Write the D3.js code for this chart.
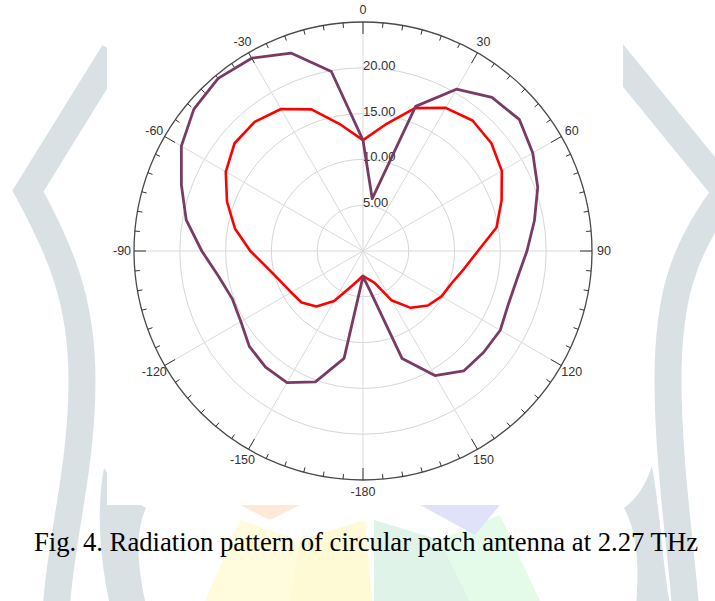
<!DOCTYPE html>
<html>
<head>
<meta charset="utf-8">
<script src="https://cdn.jsdelivr.net/npm/d3@7"></script>
<style>
  html, body { margin: 0; padding: 0; background: #fff; }
  svg { display: block; }
</style>
</head>
<body>
<script>
// angles in degrees, 0 at top, clockwise
const angles = [-180, -170, -160, -150, -140, -130, -120, -110, -100, -90, -80, -70, -60, -50, -40, -30, -20, -10,
                0, 10, 20, 30, 40, 50, 60, 70, 80, 90, 100, 110, 120, 130, 140, 150, 160, 170];

const redValues = [2.7, 3.3, 4.3, 6.3, 7.9, 8.75, 9.05, 9.6, 10.6, 12.3, 14.2, 15.8, 17.3, 18.3, 18.4, 17.9, 16.45, 14.0,
                   12.1, 14.0, 16.6, 18.05, 18.6, 18.3, 17.5, 16.1, 14.8, 12.55, 11.2, 10.3, 9.9, 9.25, 8.1, 6.2, 3.7, 3.1];

const purpleValues = [2.8, 11.9, 15.2, 16.6, 16.55, 16.2, 15.4, 15.2, 16.0, 17.6, 19.6, 21.1, 22.9, 24.1, 24.6, 24.3, 23.0, 19.9,
                      12.1, 5.8, 16.8, 20.4, 21.9, 22.3, 21.4, 20.3, 19.0, 17.9, 17.1, 16.9, 17.3, 17.2, 17.1, 15.7, 12.5, 4.4];

const ringValues = [5, 10, 15, 20];
const angleLabels = [0, 30, 60, 90, 120, 150, -180, -150, -120, -90, -60, -30];
const caption = "Fig. 4. Radiation pattern of circular patch antenna at 2.27 THz";

const width = 715, height = 601;
const cx = 363, cy = 251, R = 229;
const sans = "'Liberation Sans', Arial, sans-serif";

const svg = d3.select("body").append("svg")
    .attr("width", width)
    .attr("height", height);

// faint watermark in the background
const wm = svg.append("g").attr("fill", "none").attr("stroke-linejoin", "miter");
const grey = "#d9e1e5";
wm.append("path").attr("d", "M114,52 L28,191 C60,250 82,300 82,380 C82,470 60,540 56,612")
    .attr("stroke", grey).attr("stroke-width", 27);
wm.append("path").attr("d", "M612,52 L726,192 C682,250 668,300 668,380 C668,460 680,540 686,612")
    .attr("stroke", grey).attr("stroke-width", 27);
wm.append("path").attr("d", "M104,468 C96,510 100,560 110,605 L146,605 C136,560 136,530 146,508 C128,498 114,484 104,468 Z")
    .attr("fill", grey);
wm.append("path").attr("d", "M652,466 C660,510 662,560 670,605 L636,605 C640,560 636,530 624,508 C638,498 646,484 652,466 Z")
    .attr("fill", grey);
wm.append("path").attr("d", "M205,601 L240,520 L300,540 L330,601 Z").attr("fill", "#fffbdc");
wm.append("path").attr("d", "M290,601 L300,540 L365,520 L372,601 Z").attr("fill", "#fffad6");
wm.append("path").attr("d", "M240,505 L300,505 L270,520 Z").attr("fill", "#fde9d9");
wm.append("path").attr("d", "M374,601 L374,520 L440,540 L470,601 Z").attr("fill", "#dff3e8");
wm.append("path").attr("d", "M440,540 L500,515 L540,601 L470,601 Z").attr("fill", "#e4fbe9");
wm.append("path").attr("d", "M420,505 L500,505 L475,535 Z").attr("fill", "#dfe2f8");

// white panel behind the chart
svg.append("rect")
    .attr("x", 107).attr("y", 0)
    .attr("width", 516).attr("height", 505)
    .attr("fill", "#fff");

const r = d3.scaleLinear().domain([0, 25]).range([0, R]);
const rad = d => d * Math.PI / 180;

const g = svg.append("g").attr("transform", `translate(${cx},${cy})`);

// rings
g.selectAll(".ring")
    .data(ringValues)
    .join("circle")
    .attr("r", d => r(d))
    .attr("fill", "none")
    .attr("stroke", "#d6d6d6")
    .attr("stroke-width", 1);

// spokes every 30 degrees
g.selectAll(".spoke")
    .data(d3.range(0, 360, 30))
    .join("line")
    .attr("x1", 0).attr("y1", 0)
    .attr("x2", d => R * Math.sin(rad(d)))
    .attr("y2", d => -R * Math.cos(rad(d)))
    .attr("stroke", "#dadada")
    .attr("stroke-width", 1);

// outer circle
g.append("circle")
    .attr("r", R)
    .attr("fill", "none")
    .attr("stroke", "#4a4a4a")
    .attr("stroke-width", 1.3);

// ticks: minor every 5, major every 30
g.selectAll(".tick")
    .data(d3.range(0, 360, 5))
    .join("line")
    .attr("x1", d => R * Math.sin(rad(d)))
    .attr("y1", d => -R * Math.cos(rad(d)))
    .attr("x2", d => (R - (d % 30 === 0 ? 12 : 5)) * Math.sin(rad(d)))
    .attr("y2", d => -(R - (d % 30 === 0 ? 12 : 5)) * Math.cos(rad(d)))
    .attr("stroke", "#333")
    .attr("stroke-width", 1);

// angle labels
g.selectAll(".alabel")
    .data(angleLabels)
    .join("text")
    .attr("x", d => 241 * Math.sin(rad(d)))
    .attr("y", d => -241 * Math.cos(rad(d)))
    .attr("text-anchor", "middle")
    .attr("dominant-baseline", "central")
    .attr("font-family", sans)
    .attr("font-size", 12.5)
    .attr("fill", "#333")
    .text(d => d);

// radial value labels
g.selectAll(".rlabel")
    .data(ringValues)
    .join("text")
    .attr("x", 0)
    .attr("y", d => -r(d) + 2)
    .attr("font-family", sans)
    .attr("font-size", 13)
    .attr("fill", "#333")
    .text(d => d.toFixed(2));

// the two patterns
const line = d3.lineRadial()
    .angle(d => rad(d[0]))
    .radius(d => r(d[1]))
    .curve(d3.curveLinearClosed);

g.append("path")
    .datum(angles.map((a, i) => [a, redValues[i]]))
    .attr("d", line)
    .attr("fill", "none")
    .attr("stroke", "#ff0000")
    .attr("stroke-width", 2.6)
    .attr("stroke-linejoin", "round");

g.append("path")
    .datum(angles.map((a, i) => [a, purpleValues[i]]))
    .attr("d", line)
    .attr("fill", "none")
    .attr("stroke", "#783c64")
    .attr("stroke-width", 2.8)
    .attr("stroke-linejoin", "round");

// caption
svg.append("text")
    .attr("x", 366)
    .attr("y", 551)
    .attr("text-anchor", "middle")
    .attr("font-family", "'Liberation Serif', 'Times New Roman', serif")
    .attr("font-size", 26.5)
    .attr("fill", "#000")
    .attr("textLength", 664)
    .attr("lengthAdjust", "spacingAndGlyphs")
    .text(caption);
</script>
</body>
</html>
